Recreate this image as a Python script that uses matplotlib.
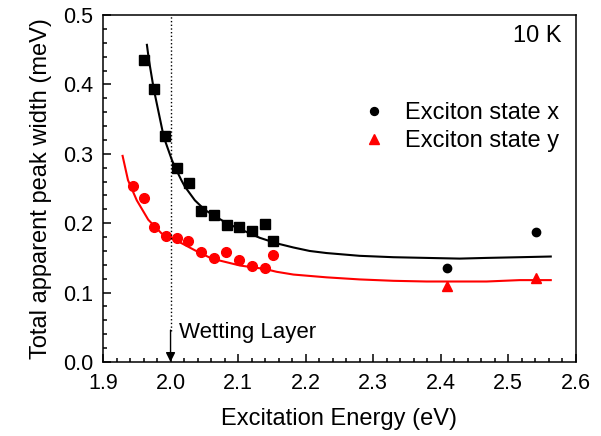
import numpy as np
import matplotlib.pyplot as plt
from matplotlib.ticker import MultipleLocator

plt.rcParams['font.family'] = ['Liberation Sans', 'DejaVu Sans']

# measured widths below / around the wetting layer (squares = state x, circles = state y)
x_low_energy = [1.960, 1.976, 1.992, 2.010, 2.028, 2.045, 2.064, 2.083, 2.101, 2.121, 2.140, 2.152]
x_low_width = [0.435, 0.394, 0.325, 0.280, 0.258, 0.218, 0.212, 0.198, 0.194, 0.189, 0.199, 0.175]

y_low_energy = [1.945, 1.961, 1.976, 1.993, 2.009, 2.026, 2.045, 2.064, 2.082, 2.101, 2.121, 2.140, 2.151]
y_low_width = [0.254, 0.236, 0.194, 0.181, 0.178, 0.175, 0.159, 0.150, 0.159, 0.147, 0.138, 0.135, 0.154]

# high energy points
x_high_energy = [2.409, 2.541]
x_high_width = [0.135, 0.188]
y_high_energy = [2.409, 2.541]
y_high_width = [0.110, 0.121]

# fit curves
fit_x_energy = [1.965, 1.968, 1.975, 1.990, 2.002, 2.007, 2.016, 2.021, 2.036, 2.051, 2.083,
                2.118, 2.132, 2.157, 2.182, 2.206, 2.231, 2.280, 2.330, 2.379, 2.428,
                2.468, 2.517, 2.563]
fit_x_width = [0.457, 0.435, 0.394, 0.324, 0.291, 0.280, 0.262, 0.253, 0.233, 0.219, 0.200,
               0.185, 0.179, 0.171, 0.165, 0.160, 0.157, 0.153, 0.151, 0.150, 0.149,
               0.150, 0.151, 0.152]

fit_y_energy = [1.929, 1.937, 1.950, 1.967, 1.987, 2.007, 2.036, 2.061, 2.103, 2.140, 2.157,
                2.182, 2.231, 2.280, 2.330, 2.379, 2.428, 2.468, 2.517, 2.563]
fit_y_width = [0.297, 0.262, 0.233, 0.205, 0.185, 0.176, 0.161, 0.149, 0.139, 0.134, 0.130,
               0.126, 0.122, 0.119, 0.117, 0.116, 0.116, 0.116, 0.118, 0.118]

wetting_layer = 2.0

fig = plt.figure(figsize=(6.01, 4.36), dpi=100)
ax = fig.add_axes([0.1714, 0.1697, 0.7866, 0.7959])

ax.plot(fit_x_energy, fit_x_width, color='black', lw=1.5, solid_joinstyle='round')
ax.plot(fit_y_energy, fit_y_width, color='red', lw=1.5, solid_joinstyle='round')

ax.plot(x_low_energy, x_low_width, 's', color='black', ms=6.5, ls='none')
ax.plot(y_low_energy, y_low_width, 'o', color='red', ms=7, ls='none')
ax.plot(x_high_energy, x_high_width, 'o', color='black', ms=6, ls='none',
        label='Exciton state x')
ax.plot(y_high_energy, y_high_width, '^', color='red', ms=7, ls='none',
        label='Exciton state y')

# wetting layer marker
ax.plot([wetting_layer, wetting_layer], [0.045, 0.5], color='black', ls=':', lw=1)
ax.annotate('', xy=(wetting_layer, 0.0), xytext=(wetting_layer, 0.046),
            arrowprops=dict(arrowstyle='-|>', color='black', lw=1,
                            mutation_scale=14, shrinkA=0, shrinkB=0))
ax.text(2.013, 0.042, 'Wetting Layer', fontsize=16, va='center', ha='left')

ax.text(0.97, 0.94, '10 K', transform=ax.transAxes, fontsize=17, ha='right', va='center')

leg = ax.legend(loc='upper right', bbox_to_anchor=(1.01, 0.81), frameon=False,
                fontsize=17, handlelength=0.6, handletextpad=1.0, labelspacing=0.25,
                markerscale=0.95)

ax.set_xlim(1.9, 2.6)
ax.set_ylim(0.0, 0.5)
ax.xaxis.set_major_locator(MultipleLocator(0.1))
ax.xaxis.set_minor_locator(MultipleLocator(0.02))
ax.yaxis.set_major_locator(MultipleLocator(0.1))
ax.yaxis.set_minor_locator(MultipleLocator(0.02))
ax.xaxis.set_major_formatter(plt.FormatStrFormatter('%.1f'))
ax.yaxis.set_major_formatter(plt.FormatStrFormatter('%.1f'))

ax.tick_params(which='both', direction='in', top=False, right=False, labelsize=15.5, width=1.1)
ax.tick_params(which='major', length=6)
ax.tick_params(which='minor', length=3)
ax.tick_params(axis='x', pad=8)
ax.tick_params(axis='y', pad=7)
for sp in ax.spines.values():
    sp.set_linewidth(1.1)

ax.set_xlabel('Excitation Energy (eV)', fontsize=17, labelpad=10)
ax.set_ylabel('Total apparent peak width (meV)', fontsize=17, labelpad=8)

fig.savefig('out.png', dpi=100)
